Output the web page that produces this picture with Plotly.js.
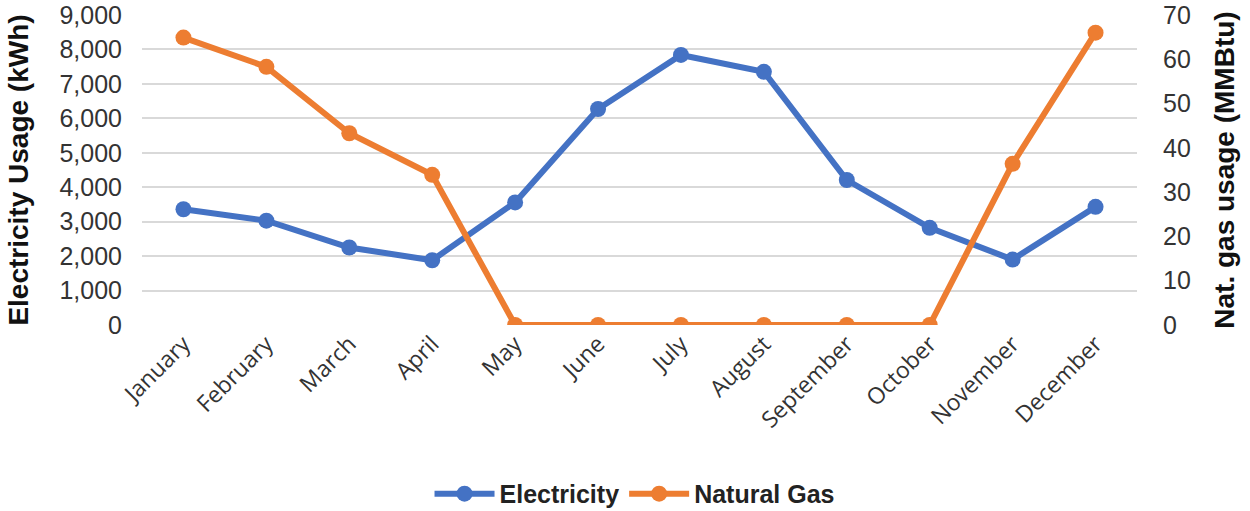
<!DOCTYPE html>
<html>
<head>
<meta charset="utf-8">
<script src="https://cdn.plot.ly/plotly-3.0.1.min.js"></script>
<style>html,body{margin:0;padding:0;background:#fff;}#chart{width:1250px;height:511px;}</style>
</head>
<body>
<div id="chart"></div>
<script>
var months = ["January","February","March","April","May","June","July","August","September","October","November","December"];
var electricity = [3360, 3030, 2250, 1880, 3560, 6270, 7840, 7350, 4210, 2820, 1900, 3430];
var naturalGas = [64.9, 58.3, 43.3, 33.9, 0, 0, 0, 0, 0, 0, 36.4, 66.0];
var leftTicks = [0,1000,2000,3000,4000,5000,6000,7000,8000,9000];
var rightTicks = [0,10,20,30,40,50,60,70];

var traces = [
  {x: months, y: electricity, name: "Electricity", type: "scatter", mode: "lines+markers",
   line: {color: "#4472C4", width: 6}, marker: {color: "#4472C4", size: 16}, yaxis: "y"},
  {x: months, y: naturalGas, name: "Natural Gas", type: "scatter", mode: "lines+markers",
   line: {color: "#ED7D31", width: 6}, marker: {color: "#ED7D31", size: 16}, yaxis: "y2"}
];

var layout = {
  width: 1250, height: 511,
  margin: {l: 142, r: 113, t: 15, b: 186, autoexpand: false},
  paper_bgcolor: "#fff", plot_bgcolor: "#fff",
  showlegend: true,
  legend: {orientation: "h", x: 0.495, xanchor: "center", y: -0.545, yanchor: "middle",
    font: {family: "Liberation Sans, Arial", size: 25, color: "#222", weight: "bold"},
    itemwidth: 60, tracegroupgap: 0},
  xaxis: {type: "category", range: [-0.5, 11.5], tickangle: -45, showgrid: false, zeroline: false, showline: false,
    ticks: "", automargin: false,
    tickfont: {family: "Open Sans, sans-serif", size: 23, color: "#333"}},
  yaxis: {range: [0, 9000], tickvals: leftTicks, tickformat: ",", showgrid: true,
    gridcolor: "#d9d9d9", gridwidth: 2, zeroline: false, showline: false, ticks: "",
    automargin: false, ticklabelstandoff: 19,
    tickfont: {family: "Liberation Sans, Arial", size: 25, color: "#333"},
    title: {text: "<b>Electricity Usage (kWh)</b>", standoff: 22,
      font: {family: "Liberation Sans, Arial", size: 28, color: "#111"}}},
  yaxis2: {range: [0, 70], tickvals: rightTicks, overlaying: "y", side: "right", showgrid: false,
    zeroline: false, showline: false, ticks: "", automargin: false, ticklabelstandoff: 25,
    tickfont: {family: "Liberation Sans, Arial", size: 25, color: "#333"},
    title: {text: "<b>Nat. gas usage (MMBtu)</b>", standoff: 24,
      font: {family: "Liberation Sans, Arial", size: 28, color: "#111"}}}
};

Plotly.newPlot("chart", traces, layout, {displayModeBar: false, responsive: false});
</script>
</body>
</html>
